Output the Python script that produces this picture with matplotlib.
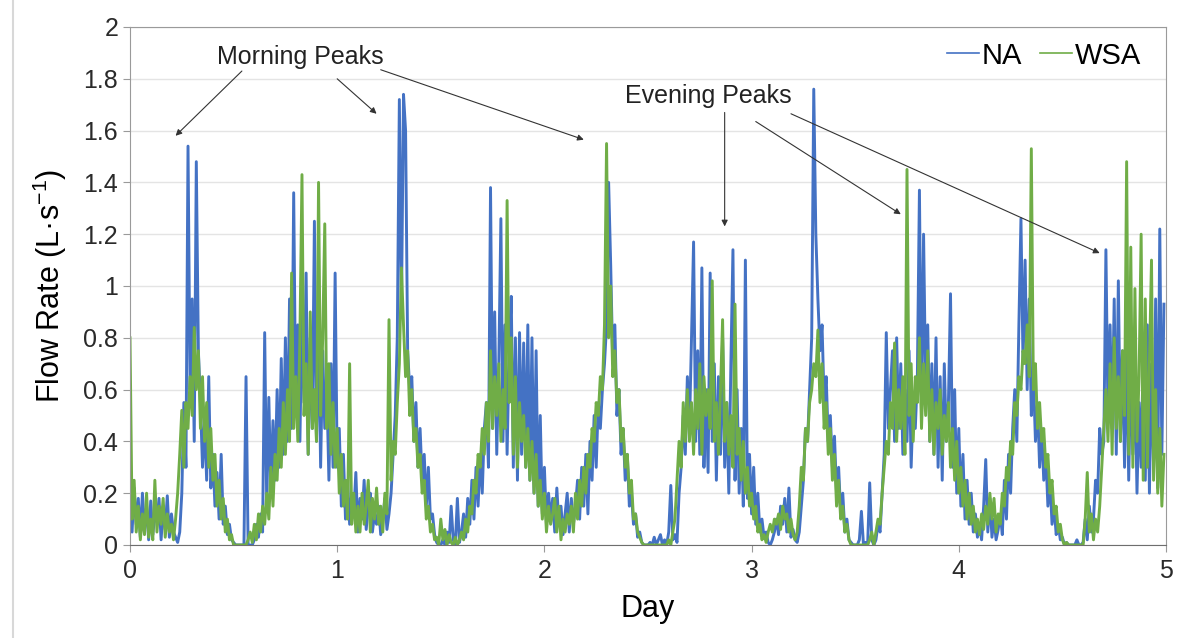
import numpy as np
import matplotlib
matplotlib.use("Agg")
import matplotlib.pyplot as plt
from matplotlib.lines import Line2D
from matplotlib.ticker import FuncFormatter, MultipleLocator

plt.rcParams['font.family'] = ['Liberation Sans', 'DejaVu Sans']
plt.rcParams['mathtext.fontset'] = 'custom'
plt.rcParams['mathtext.rm'] = 'Liberation Sans'
plt.rcParams['mathtext.it'] = 'Liberation Sans'

# flow rate, one value every 0.01 day
step_day = 0.01
na = [
    0.30, 0.05, 0.22, 0.08, 0.18, 0.03, 0.20, 0.06, 0.15, 0.02,
    0.17, 0.04, 0.12, 0.09, 0.18, 0.02, 0.14, 0.06, 0.19, 0.03,
    0.12, 0.05, 0.03, 0.01, 0.05, 0.20, 0.55, 0.30, 1.54, 0.60,
    0.95, 0.40, 1.48, 0.75, 0.55, 0.30, 0.48, 0.25, 0.65, 0.22,
    0.35, 0.15, 0.28, 0.10, 0.35, 0.08, 0.15, 0.04, 0.08, 0.02,
    0.01, 0.00, 0.00, 0.00, 0.00, 0.00, 0.65, 0.00, 0.00, 0.00,
    0.02, 0.08, 0.03, 0.12, 0.05, 0.82, 0.15, 0.57, 0.20, 0.48,
    0.25, 0.60, 0.30, 0.72, 0.35, 0.80, 0.40, 0.95, 0.45, 1.36,
    0.50, 0.85, 0.40, 0.90, 0.55, 1.05, 0.35, 0.80, 0.45, 1.25,
    0.40, 0.85, 0.30, 0.75, 0.45, 0.60, 0.25, 0.70, 0.30, 1.05,
    0.30, 0.45, 0.15, 0.35, 0.10, 0.25, 0.08, 0.20, 0.12, 0.28,
    0.05, 0.18, 0.10, 0.25, 0.06, 0.15, 0.20, 0.05, 0.12, 0.08,
    0.15, 0.04, 0.10, 0.18, 0.06, 0.12, 0.20, 0.35, 0.50, 0.80,
    1.72, 0.90, 1.74, 1.60, 0.75, 0.60, 0.65, 0.40, 0.55, 0.30,
    0.45, 0.25, 0.35, 0.15, 0.30, 0.10, 0.12, 0.04, 0.01, 0.00,
    0.00, 0.02, 0.00, 0.05, 0.01, 0.15, 0.02, 0.00, 0.18, 0.01,
    0.05, 0.12, 0.03, 0.18, 0.08, 0.25, 0.10, 0.30, 0.15, 0.35,
    0.20, 0.45, 0.55, 0.30, 1.38, 0.45, 0.90, 0.35, 0.70, 1.26,
    0.40, 0.85, 0.35, 0.75, 0.96, 0.30, 0.80, 0.25, 0.82, 0.35,
    0.78, 0.30, 0.85, 0.25, 0.80, 0.20, 0.75, 0.15, 0.50, 0.12,
    0.30, 0.08, 0.20, 0.10, 0.18, 0.05, 0.22, 0.08, 0.15, 0.04,
    0.12, 0.20, 0.05, 0.18, 0.08, 0.15, 0.25, 0.10, 0.30, 0.15,
    0.35, 0.12, 0.40, 0.25, 0.50, 0.30, 0.55, 0.45, 0.60, 0.70,
    0.85, 1.40, 1.08, 0.70, 0.85, 0.50, 0.60, 0.35, 0.45, 0.25,
    0.35, 0.15, 0.20, 0.08, 0.12, 0.03, 0.05, 0.01, 0.00, 0.00,
    0.00, 0.01, 0.00, 0.03, 0.00, 0.02, 0.04, 0.00, 0.02, 0.00,
    0.05, 0.23, 0.02, 0.04, 0.01, 0.20, 0.30, 0.50, 0.35, 0.65,
    0.45, 0.80, 1.17, 0.40, 0.75, 0.35, 1.07, 0.30, 0.60, 0.28,
    1.05, 0.40, 0.70, 0.25, 0.65, 0.35, 0.80, 0.30, 0.55, 0.20,
    0.70, 1.14, 0.25, 0.60, 0.20, 0.45, 0.15, 1.10, 0.18, 0.35,
    0.12, 0.30, 0.08, 0.20, 0.05, 0.10, 0.03, 0.05, 0.01, 0.00,
    0.02, 0.05, 0.10, 0.04, 0.15, 0.08, 0.18, 0.05, 0.22, 0.03,
    0.06, 0.02, 0.01, 0.05, 0.15, 0.25, 0.45, 0.40, 0.60, 0.80,
    1.76, 1.20, 0.95, 0.75, 0.85, 0.55, 0.65, 0.40, 0.50, 0.30,
    0.42, 0.20, 0.30, 0.12, 0.20, 0.05, 0.10, 0.02, 0.01, 0.00,
    0.00, 0.00, 0.02, 0.13, 0.00, 0.01, 0.00, 0.24, 0.02, 0.00,
    0.02, 0.08, 0.05, 0.20, 0.35, 0.82, 0.45, 0.60, 0.75, 0.40,
    0.80, 0.45, 0.70, 0.35, 0.60, 0.40, 0.75, 0.30, 0.55, 0.45,
    0.65, 1.37, 0.50, 1.20, 0.60, 0.85, 0.40, 0.70, 0.35, 0.80,
    0.30, 0.65, 0.25, 0.70, 0.40, 0.55, 0.97, 0.30, 0.60, 0.20,
    0.45, 0.15, 0.35, 0.10, 0.25, 0.08, 0.20, 0.05, 0.12, 0.03,
    0.08, 0.02, 0.15, 0.33, 0.05, 0.18, 0.03, 0.10, 0.02, 0.06,
    0.12, 0.04, 0.25, 0.10, 0.35, 0.20, 0.45, 0.60, 0.40, 0.85,
    1.26, 0.70, 1.10, 0.60, 0.95, 0.50, 0.65, 0.40, 0.55, 0.30,
    0.45, 0.25, 0.35, 0.15, 0.25, 0.08, 0.15, 0.04, 0.08, 0.02,
    0.03, 0.00, 0.01, 0.00, 0.00, 0.00, 0.00, 0.02, 0.00, 0.00,
    0.01, 0.10, 0.02, 0.15, 0.05, 0.10, 0.25, 0.20, 0.45, 0.35,
    0.40, 1.14, 0.50, 0.85, 0.45, 0.95, 0.35, 1.02, 0.40, 0.75,
    0.30, 0.80, 0.25, 0.70, 0.35, 0.65, 0.20, 0.55, 0.30, 0.75,
    0.25, 0.85, 0.20, 0.70, 0.30, 0.95, 0.22, 1.22, 0.35, 0.93,
]
wsa = [
    0.80, 0.10, 0.25, 0.05, 0.15, 0.02, 0.12, 0.04, 0.20, 0.03,
    0.10, 0.02, 0.25, 0.05, 0.15, 0.08, 0.18, 0.03, 0.12, 0.05,
    0.08, 0.02, 0.10, 0.20, 0.35, 0.52, 0.30, 0.55, 0.45, 0.65,
    0.50, 0.84, 0.60, 0.75, 0.45, 0.65, 0.40, 0.55, 0.30, 0.45,
    0.25, 0.35, 0.15, 0.25, 0.10, 0.18, 0.05, 0.10, 0.02, 0.04,
    0.00, 0.00, 0.00, 0.00, 0.00, 0.00, 0.00, 0.02, 0.05, 0.01,
    0.08, 0.02, 0.12, 0.05, 0.15, 0.08, 0.20, 0.10, 0.30, 0.15,
    0.35, 0.25, 0.45, 0.30, 0.55, 0.35, 0.60, 0.40, 1.05, 0.45,
    0.65, 0.40, 0.80, 1.43, 0.50, 0.70, 0.35, 0.90, 0.45, 0.60,
    0.40, 1.40, 0.50, 0.80, 1.24, 0.45, 0.70, 0.35, 0.55, 0.30,
    0.45, 0.20, 0.35, 0.15, 0.25, 0.10, 0.70, 0.08, 0.20, 0.05,
    0.15, 0.05, 0.20, 0.08, 0.15, 0.25, 0.05, 0.18, 0.10, 0.22,
    0.08, 0.15, 0.05, 0.20, 0.12, 0.87, 0.25, 0.40, 0.35, 0.55,
    0.70, 1.07, 0.85, 0.65, 0.75, 0.50, 0.60, 0.40, 0.45, 0.30,
    0.35, 0.20, 0.25, 0.10, 0.15, 0.05, 0.08, 0.02, 0.03, 0.00,
    0.10, 0.02, 0.06, 0.00, 0.04, 0.01, 0.00, 0.03, 0.00, 0.02,
    0.05, 0.02, 0.10, 0.05, 0.15, 0.12, 0.25, 0.20, 0.35, 0.30,
    0.45, 0.35, 0.55, 0.40, 0.75, 0.45, 0.65, 0.50, 0.70, 0.40,
    0.60, 0.45, 1.33, 0.55, 0.80, 0.35, 0.65, 0.30, 0.55, 0.40,
    0.50, 0.30, 0.45, 0.25, 0.40, 0.20, 0.35, 0.15, 0.25, 0.10,
    0.20, 0.05, 0.15, 0.08, 0.12, 0.18, 0.05, 0.15, 0.02, 0.10,
    0.05, 0.12, 0.08, 0.15, 0.05, 0.20, 0.10, 0.25, 0.15, 0.30,
    0.20, 0.35, 0.30, 0.45, 0.40, 0.55, 0.50, 0.65, 0.60, 0.85,
    1.55, 0.80, 1.00, 0.65, 0.75, 0.55, 0.60, 0.40, 0.45, 0.30,
    0.35, 0.20, 0.25, 0.10, 0.12, 0.05, 0.03, 0.01, 0.00, 0.00,
    0.00, 0.00, 0.00, 0.00, 0.00, 0.00, 0.00, 0.00, 0.00, 0.00,
    0.02, 0.00, 0.05, 0.10, 0.25, 0.40, 0.30, 0.55, 0.40, 0.60,
    0.40, 0.55, 0.35, 0.60, 0.45, 0.70, 0.35, 0.65, 0.50, 0.60,
    0.45, 1.02, 0.40, 0.55, 0.35, 0.60, 0.87, 0.40, 0.55, 0.35,
    0.50, 0.30, 0.93, 0.35, 0.45, 0.25, 0.40, 0.20, 0.30, 0.15,
    0.20, 0.10, 0.15, 0.05, 0.08, 0.02, 0.04, 0.01, 0.05, 0.08,
    0.05, 0.10, 0.08, 0.12, 0.06, 0.15, 0.10, 0.12, 0.05, 0.10,
    0.04, 0.02, 0.05, 0.15, 0.30, 0.25, 0.45, 0.40, 0.55, 0.60,
    0.70, 0.65, 0.83, 0.55, 0.70, 0.45, 0.55, 0.35, 0.45, 0.25,
    0.35, 0.15, 0.25, 0.10, 0.15, 0.05, 0.08, 0.02, 0.00, 0.00,
    0.00, 0.00, 0.00, 0.00, 0.00, 0.00, 0.00, 0.02, 0.05, 0.00,
    0.05, 0.10, 0.08, 0.20, 0.30, 0.40, 0.35, 0.55, 0.45, 0.78,
    0.40, 0.60, 0.45, 0.65, 0.35, 1.45, 0.50, 0.70, 0.40, 0.65,
    0.55, 0.80, 0.45, 0.70, 0.50, 0.75, 0.40, 0.60, 0.35, 0.55,
    0.45, 0.60, 0.35, 0.50, 0.40, 0.55, 0.30, 0.45, 0.25, 0.40,
    0.20, 0.30, 0.15, 0.25, 0.10, 0.20, 0.08, 0.15, 0.05, 0.10,
    0.04, 0.12, 0.06, 0.15, 0.08, 0.20, 0.10, 0.18, 0.05, 0.12,
    0.08, 0.20, 0.15, 0.30, 0.25, 0.40, 0.35, 0.55, 0.50, 0.65,
    0.60, 0.75, 0.70, 0.85, 0.65, 1.53, 0.60, 0.70, 0.45, 0.55,
    0.40, 0.45, 0.30, 0.35, 0.20, 0.25, 0.12, 0.15, 0.05, 0.08,
    0.02, 0.00, 0.01, 0.00, 0.00, 0.00, 0.00, 0.00, 0.00, 0.00,
    0.00, 0.10, 0.28, 0.05, 0.12, 0.02, 0.10, 0.05, 0.15, 0.30,
    0.45, 0.60, 0.40, 0.70, 0.35, 0.80, 0.45, 0.65, 0.40, 0.75,
    0.50, 1.48, 0.35, 1.15, 0.30, 0.99, 0.40, 0.65, 1.20, 0.25,
    0.95, 0.30, 0.70, 1.10, 0.25, 0.60, 0.20, 0.45, 0.15, 0.35,
]
series_names = ['NA', 'WSA']
series_colors = ['#4472C4', '#70AD47']
x_ticks = [0, 1, 2, 3, 4, 5]

day = np.arange(len(na)) * step_day

fig = plt.figure(figsize=(11.86, 6.38), dpi=100)
ax = fig.add_axes([130 / 1186, 93 / 638, 1036 / 1186, 518 / 638])

ax.plot(day, na, color=series_colors[0], lw=2.1, label=series_names[0])
ax.plot(day, wsa, color=series_colors[1], lw=2.1, label=series_names[1])

ax.set_xlim(0, 5)
ax.set_ylim(0, 2)
ax.set_xticks(x_ticks)
ax.yaxis.set_major_locator(MultipleLocator(0.2))
ax.yaxis.set_major_formatter(FuncFormatter(lambda v, p: '%g' % round(v, 1)))
ax.grid(axis='y', color='#e4e4e4', lw=1)
ax.set_axisbelow(True)
for s in ['top', 'right', 'left']:
    ax.spines[s].set_color('#9a9a9a')
ax.spines['bottom'].set_color('#6e6e6e')
ax.tick_params(axis='both', labelsize=18, colors='#9a9a9a', labelcolor='#2a2a2a',
               length=5, direction='out')
ax.tick_params(axis='x', pad=5)

ax.set_xlabel('Day', fontsize=22, labelpad=8)
ax.set_ylabel('Flow Rate (L·s$^{-1}$)', fontsize=22, labelpad=10)

leg = ax.legend(loc='upper right', bbox_to_anchor=(0.99, 1.0), ncol=2, frameon=False,
                fontsize=21, handlelength=1.1, handletextpad=0.1, columnspacing=0.6,
                borderaxespad=0.1)
for h in leg.legend_handles:
    h.set_linewidth(1.2)

arrow = dict(arrowstyle='-|>', color='#333333', lw=0.8, mutation_scale=9, shrinkA=0, shrinkB=0)
ax.text(0.82, 1.885, 'Morning Peaks', fontsize=18, ha='center', va='center', color='#222222')
ax.annotate('', xy=(0.22, 1.58), xytext=(0.54, 1.83), arrowprops=arrow)
ax.annotate('', xy=(1.19, 1.665), xytext=(1.0, 1.80), arrowprops=arrow)
ax.annotate('', xy=(2.19, 1.565), xytext=(1.21, 1.835), arrowprops=arrow)

ax.text(2.79, 1.735, 'Evening Peaks', fontsize=18, ha='center', va='center', color='#222222')
ax.annotate('', xy=(2.87, 1.23), xytext=(2.87, 1.67), arrowprops=arrow)
ax.annotate('', xy=(3.72, 1.277), xytext=(3.02, 1.635), arrowprops=arrow)
ax.annotate('', xy=(4.68, 1.127), xytext=(3.19, 1.665), arrowprops=arrow)

fig.add_artist(Line2D([13 / 1186, 13 / 1186], [0, 1], color='#d8d8d8', lw=1.5))

fig.savefig('out.png', dpi=100)
